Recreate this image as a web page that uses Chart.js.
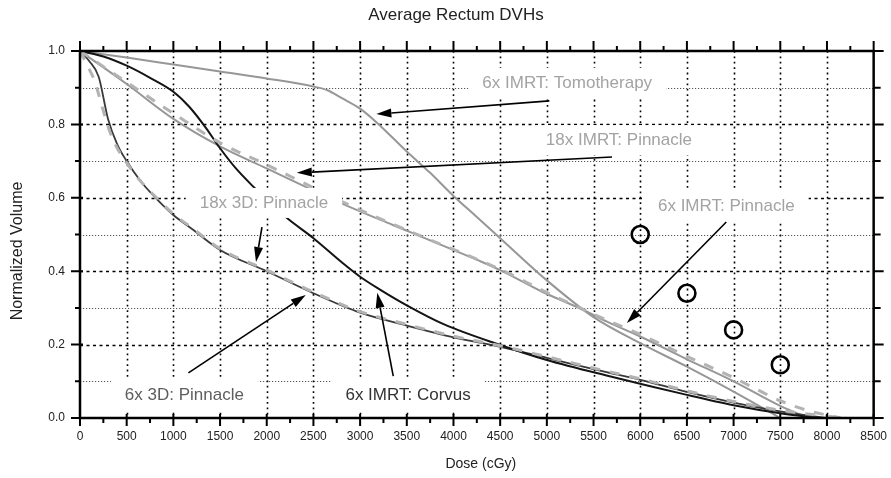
<!DOCTYPE html>
<html><head><meta charset="utf-8">
<script src="https://cdn.jsdelivr.net/npm/chart.js@4/dist/chart.umd.min.js"></script>
<style>html,body{margin:0;padding:0;background:#fff}#wrap{width:891px;height:478px}</style>
</head><body><div id="wrap"><canvas id="c" width="891" height="478"></canvas></div>
<script>
// ---------- data ----------
const chartTitle = 'Average Rectum DVHs';
const xAxisTitle = 'Dose (cGy)';
const yAxisTitle = 'Normalized Volume';
const xTickValues = [0,500,1000,1500,2000,2500,3000,3500,4000,4500,5000,5500,6000,6500,7000,7500,8000,8500];
const yTickValues = [0,0.2,0.4,0.6,0.8,1.0];
const yMinorValues = [0.1,0.3,0.5,0.7,0.9];

const tomoDose = [0,500,1000,1500,2000,2500,2650,2800,3000,3200,3500,3750,4000,4250,4500,5000,5500,6000,6500,7000,7500];
const tomoVol  = [1,0.982,0.963,0.944,0.925,0.903,0.893,0.872,0.843,0.8,0.726,0.668,0.605,0.548,0.49,0.375,0.275,0.204,0.14,0.072,0];

const corvusDose = [0,250,500,750,1000,1170,1350,1500,1670,1865,2000,2220,2500,2800,3000,3200,3500,3900,4500,5000,5650,6500,7000,7500,7900];
const corvusVol  = [1,0.985,0.96,0.927,0.889,0.848,0.79,0.735,0.68,0.628,0.595,0.544,0.49,0.425,0.385,0.352,0.307,0.255,0.199,0.158,0.115,0.063,0.035,0.013,0];

const imrt6Dose = [0,500,1000,1500,2000,2400,2800,3350,3550,4260,4500,4950,5350,5650,6000,6500,7000,7500,7800];
const imrt6Vol  = [1,0.91,0.815,0.74,0.68,0.632,0.585,0.526,0.505,0.43,0.403,0.344,0.299,0.262,0.222,0.16,0.1,0.033,0];

const imrt18Dose = [0,500,1000,1500,2000,2400,2800,3500,4500,5000,5650,6000,6500,7000,7500,7800,8150];
const imrt18Vol  = [1,0.915,0.83,0.75,0.69,0.64,0.59,0.512,0.405,0.342,0.266,0.228,0.168,0.11,0.047,0.02,0];

const d3x6Dose = [0,100,200,300,400,500,650,820,1000,1200,1500,2000,2500,3000,3500,4000,4500,5000,5650,6000,6500,7000,7500,8000];
const d3x6Vol  = [1,0.972,0.93,0.815,0.745,0.70,0.645,0.597,0.553,0.515,0.458,0.40,0.34,0.287,0.252,0.22,0.194,0.164,0.124,0.104,0.071,0.042,0.018,0];

const d3x18Dose = [0,100,160,240,320,400,500,650,820,1000,1200,1500,2000,2500,3000,3500,4000,4500,5000,5650,6000,6500,7000,7500,8000,8200];
const d3x18Vol  = [1,0.95,0.916,0.845,0.78,0.735,0.695,0.645,0.6,0.556,0.518,0.461,0.403,0.343,0.29,0.255,0.223,0.197,0.167,0.127,0.107,0.074,0.045,0.021,0.005,0];

const circleDose = [6000,6500,7000,7500];
const circleVol  = [0.5,0.34,0.24,0.145];

// annotations (data coordinates)
const labelText  = ['6x IMRT: Tomotherapy','18x IMRT: Pinnacle','6x IMRT: Pinnacle','18x 3D: Pinnacle','6x 3D: Pinnacle','6x IMRT: Corvus'];
const labelDose  = [5218,5772,6922,1970,1118,3514];
const labelVol   = [0.913,0.757,0.578,0.586,0.063,0.063];
const labelColor = ['#a3a3a3','#a3a3a3','#a3a3a3','#a3a3a3','#5e5e5e','#333333'];
const arrowFromDose = [5027,5698,6922,1949,1161,3355];
const arrowFromVol  = [0.864,0.711,0.534,0.52,0.123,0.114];
const arrowToDose   = [3174,2322,5857,1885,2418,3184];
const arrowToVol    = [0.828,0.668,0.259,0.425,0.335,0.341];

// ---------- helpers ----------
const FONT = '"Liberation Sans", Arial, Helvetica, sans-serif';
const pts = (xs, ys) => xs.map((v, i) => ({x: v, y: ys[i]}));

function arrow(ctx, x1, y1, x2, y2) {
  const ang = Math.atan2(y2 - y1, x2 - x1);
  const L = 15, W = 4.5;
  const bx = x2 - L * Math.cos(ang), by = y2 - L * Math.sin(ang);
  ctx.beginPath(); ctx.moveTo(x1, y1); ctx.lineTo(bx, by); ctx.stroke();
  ctx.beginPath(); ctx.moveTo(x2, y2);
  ctx.lineTo(bx - W * Math.sin(ang), by + W * Math.cos(ang));
  ctx.lineTo(bx + W * Math.sin(ang), by - W * Math.cos(ang));
  ctx.closePath(); ctx.fill();
}

const deco = {
  id: 'deco',
  beforeDatasetsDraw(chart) {
    const {ctx, chartArea: a, scales: {x, y}} = chart;
    ctx.save();
    ctx.strokeStyle = '#000';
    ctx.lineWidth = 1.6; ctx.setLineDash([1.8, 3.6]);
    xTickValues.forEach(v => {
      if (v <= x.min || v >= x.max) return;
      const px = Math.round(x.getPixelForValue(v)) + 0.5;
      ctx.beginPath(); ctx.moveTo(px, a.top); ctx.lineTo(px, a.bottom); ctx.stroke();
    });
    ctx.lineWidth = 1.6; ctx.setLineDash([3, 3.5]);
    yTickValues.forEach(v => {
      if (v <= y.min || v >= y.max) return;
      const py = Math.round(y.getPixelForValue(v)) + 0.5;
      ctx.beginPath(); ctx.moveTo(a.left, py); ctx.lineTo(a.right, py); ctx.stroke();
    });
    ctx.strokeStyle = '#555'; ctx.lineWidth = 1; ctx.setLineDash([1.2, 1.8]);
    yMinorValues.forEach(v => {
      const py = Math.round(y.getPixelForValue(v)) + 0.5;
      ctx.beginPath(); ctx.moveTo(a.left, py); ctx.lineTo(a.right, py); ctx.stroke();
    });
    ctx.restore();
  },
  afterDatasetsDraw(chart) {
    const {ctx, chartArea: a, scales: {x, y}} = chart;
    ctx.save();
    ctx.font = '17px ' + FONT;
    ctx.textAlign = 'center'; ctx.textBaseline = 'middle';
    labelText.forEach((t, i) => {
      const cx = x.getPixelForValue(labelDose[i]), cy = y.getPixelForValue(labelVol[i]);
      const w = ctx.measureText(t).width;
      ctx.fillStyle = '#fff';
      ctx.fillRect(cx - w / 2 - 14, cy - 15, w + 28, 30);
      ctx.fillStyle = labelColor[i];
      ctx.fillText(t, cx, cy);
    });
    ctx.strokeStyle = '#000'; ctx.fillStyle = '#000'; ctx.lineWidth = 1.6;
    arrowFromDose.forEach((d, i) => {
      arrow(ctx, x.getPixelForValue(d), y.getPixelForValue(arrowFromVol[i]),
                 x.getPixelForValue(arrowToDose[i]), y.getPixelForValue(arrowToVol[i]));
    });
    ctx.lineWidth = 2.5; ctx.strokeStyle = '#000';
    ctx.strokeRect(a.left, a.top, a.right - a.left, a.bottom - a.top);
    ctx.lineWidth = 2;
    ctx.beginPath();
    for (let k = 0; k <= 10; k++) {
      const v = k / 10, py = y.getPixelForValue(v);
      const major = k % 2 === 0;
      ctx.moveTo(a.left - (major ? 9 : 5), py); ctx.lineTo(a.left + (major ? 3 : 0), py);
      ctx.moveTo(a.right, py); ctx.lineTo(a.right + (major ? 10 : 7), py);
    }
    for (let v = 0; v <= 8500; v += 250) {
      const px = x.getPixelForValue(v);
      const major = v % 500 === 0;
      ctx.moveTo(px, a.top - (major ? 10 : 5)); ctx.lineTo(px, a.top);
      ctx.moveTo(px, a.bottom - (major ? 4 : 0)); ctx.lineTo(px, a.bottom + (major ? 8 : 5));
    }
    ctx.stroke();
    ctx.restore();
  },
  afterDraw(chart) {
    const {ctx, chartArea: a} = chart;
    ctx.save();
    ctx.fillStyle = '#222';
    ctx.textAlign = 'center'; ctx.textBaseline = 'middle';
    ctx.font = '17px ' + FONT;
    ctx.fillText(chartTitle, 456, 15);
    ctx.font = '14px ' + FONT;
    ctx.fillText(xAxisTitle, (a.left + a.right) / 2 + 4, 464);
    ctx.font = '16px ' + FONT;
    ctx.translate(18, 251); ctx.rotate(-Math.PI / 2);
    ctx.fillText(yAxisTitle, 0, 0);
    ctx.restore();
  }
};

const lineDs = (label, xs, ys, color, width, dash) => ({
  label, data: pts(xs, ys), borderColor: color, borderWidth: width,
  borderDash: dash || [], pointRadius: 0, fill: false,
  cubicInterpolationMode: 'monotone', showLine: true
});

new Chart(document.getElementById('c'), {
  type: 'line',
  data: {
    datasets: [
      {label: 'markers', data: pts(circleDose, circleVol), showLine: false,
       pointRadius: 8.5, pointBorderWidth: 2.6, pointBorderColor: '#000',
       pointBackgroundColor: 'rgba(0,0,0,0)', borderColor: '#000'},
      lineDs('18x 3D: Pinnacle', d3x18Dose, d3x18Vol, '#b3b3b3', 3, [10, 10]),
      lineDs('18x IMRT: Pinnacle', imrt18Dose, imrt18Vol, '#b3b3b3', 3, [10, 10]),
      lineDs('6x IMRT: Corvus', corvusDose, corvusVol, '#141414', 2),
      lineDs('6x 3D: Pinnacle', d3x6Dose, d3x6Vol, '#3a3a3a', 1.8),
      lineDs('6x IMRT: Pinnacle', imrt6Dose, imrt6Vol, '#979797', 2),
      lineDs('6x IMRT: Tomotherapy', tomoDose, tomoVol, '#979797', 2)
    ]
  },
  options: {
    responsive: false, animation: false, devicePixelRatio: 1,
    layout: {padding: {left: 0, right: 13, top: 51, bottom: 0}},
    plugins: {legend: {display: false}, tooltip: {enabled: false}, title: {display: false}},
    scales: {
      x: {
        type: 'linear', min: 0, max: 8500,
        afterBuildTicks: s => { s.ticks = xTickValues.map(v => ({value: v})); },
        afterFit: s => { s.height = 60; },
        border: {display: false},
        grid: {display: true, drawOnChartArea: false, drawTicks: true, tickLength: 7, color: 'rgba(0,0,0,0)'},
        ticks: {autoSkip: false, maxRotation: 0, padding: 4, color: '#222', font: {family: FONT, size: 12},
                callback: v => String(v)}
      },
      y: {
        type: 'linear', min: 0, max: 1,
        afterBuildTicks: s => { s.ticks = yTickValues.map(v => ({value: v})); },
        afterFit: s => { s.width = 80; },
        border: {display: false},
        grid: {display: true, drawOnChartArea: false, drawTicks: true, tickLength: 9, color: 'rgba(0,0,0,0)'},
        ticks: {padding: 6, color: '#222', font: {family: FONT, size: 12},
                callback: v => Number(v).toFixed(1)}
      }
    }
  },
  plugins: [deco]
});
</script>
</body></html>
